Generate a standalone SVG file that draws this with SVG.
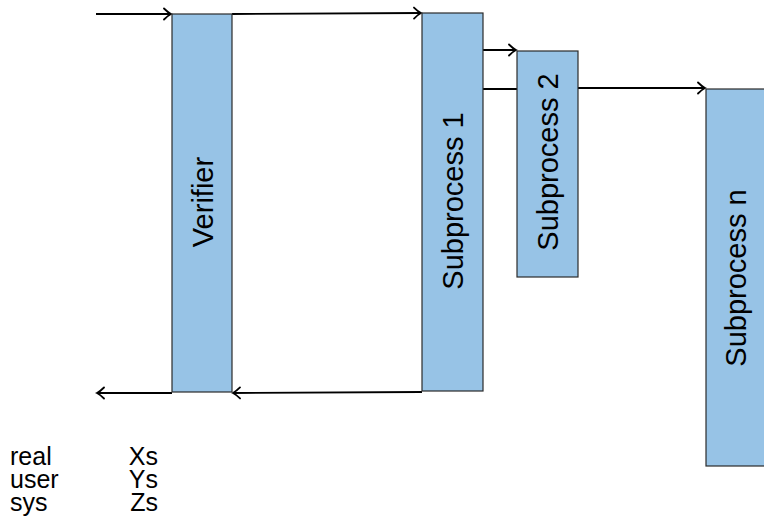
<svg xmlns="http://www.w3.org/2000/svg" width="764" height="522" viewBox="0 0 764 522">
  <defs>
    <marker id="chev" markerUnits="userSpaceOnUse" markerWidth="12" markerHeight="14" viewBox="-10 -7 12 14" refX="0" refY="0" orient="auto">
      <path d="M-7,-5.5 Q-3,-1.5 0,0 Q-3,1.5 -7,5.5" fill="none" stroke="#000" stroke-width="1.8" stroke-linecap="round"/>
    </marker>
  </defs>
  <style>
    .box { fill: #97c3e6; stroke: #2b2b2b; stroke-width: 1.2; }
    .lbl { font-family: "Liberation Sans", Arial, sans-serif; font-size: 29px; fill: #000; text-anchor: middle; }
    .txt { font-family: "Liberation Sans", Arial, sans-serif; font-size: 25px; fill: #000; }
    .wire { fill: none; stroke: #000; stroke-width: 1.9; }
  </style>
  <rect width="764" height="522" fill="#fff"/>

  <g id="connectors">
    <line class="wire" x1="96" y1="14" x2="171" y2="14" marker-end="url(#chev)"/>
    <line class="wire" x1="232" y1="14" x2="421" y2="13" marker-end="url(#chev)"/>
    <line class="wire" x1="483" y1="50" x2="516" y2="50" marker-end="url(#chev)"/>
    <line class="wire" x1="483" y1="89" x2="517" y2="89"/>
    <line class="wire" x1="578" y1="88" x2="705" y2="88" marker-end="url(#chev)"/>
    <line class="wire" x1="422" y1="392" x2="233" y2="393" marker-end="url(#chev)"/>
    <line class="wire" x1="172" y1="393" x2="97" y2="393" marker-end="url(#chev)"/>
  </g>

  <g id="verifier">
    <rect class="box" x="172" y="14" width="60" height="378"/>
    <text class="lbl" transform="translate(212.5,202) rotate(-90)">Verifier</text>
  </g>

  <g id="subprocess-1">
    <rect class="box" x="422" y="13" width="61" height="378"/>
    <text class="lbl" transform="translate(463,201) rotate(-90)">Subprocess 1</text>
  </g>

  <g id="subprocess-2">
    <rect class="box" x="517" y="51" width="61" height="226"/>
    <text class="lbl" transform="translate(557.5,162) rotate(-90)">Subprocess 2</text>
  </g>

  <g id="subprocess-n">
    <rect class="box" x="706" y="89" width="61" height="377"/>
    <text class="lbl" transform="translate(745.5,278) rotate(-90)">Subprocess n</text>
  </g>

  <!-- timing summary: one block per column, lines 23px apart -->
  <g id="timing">
    <text class="txt"><tspan x="10" y="465">real</tspan><tspan x="10" y="488">user</tspan><tspan x="10" y="511">sys</tspan></text>
    <text class="txt" text-anchor="end"><tspan x="158" y="465">Xs</tspan><tspan x="158" y="488">Ys</tspan><tspan x="158" y="511">Zs</tspan></text>
  </g>
</svg>
